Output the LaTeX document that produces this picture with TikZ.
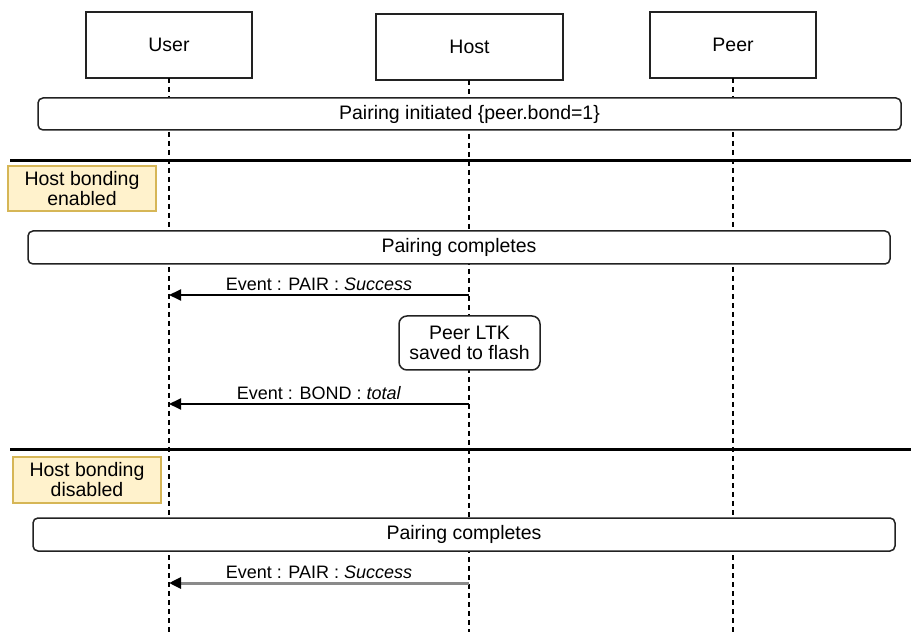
\documentclass[tikz,border=0pt]{standalone}
\usepackage{fontspec}
\setmainfont{Liberation Sans}
\usetikzlibrary{arrows.meta}
\definecolor{noteFill}{HTML}{FFF2CC}
\definecolor{noteLine}{HTML}{D6B656}
\definecolor{boxLine}{HTML}{222222}
\definecolor{greyArrow}{HTML}{8A8A8A}
\begin{document}
\begin{tikzpicture}[x=1pt,y=-1pt,
  basefont/.style={font=\fontsize{19.5}{23}\selectfont},
  actor/.style={draw=boxLine,line width=1.5pt,fill=white,basefont,inner sep=0pt},
  banner/.style={draw=boxLine,line width=1.5pt,fill=white,rounded corners=5pt,basefont,inner sep=0pt},
  note/.style={draw=noteLine,line width=1.5pt,fill=noteFill,basefont,align=center,inner sep=0pt},
  action/.style={draw=boxLine,line width=1.5pt,fill=white,rounded corners=8pt,basefont,align=center,inner sep=0pt},
  life/.style={draw=black,line width=1.4pt,dash pattern=on 5pt off 4pt},
  sep/.style={draw=black,line width=3pt},
  msg/.style={draw=black,line width=1.8pt,-{Triangle[length=12pt,width=11pt]}},
  msggrey/.style={draw=greyArrow,line width=3pt,-{Triangle[length=12pt,width=11pt,color=black]}},
  lbl/.style={font=\fontsize{18}{21}\selectfont,above,inner sep=3pt}
]
\useasboundingbox (0,0) rectangle (911,636);
% lifeline ends
\coordinate (uend) at (169,632);
\coordinate (hend) at (469,632);
\coordinate (pend) at (733,632);
% actors
\node[actor,minimum width=166pt,minimum height=66pt] (user) at (169,45) {User};
\node[actor,minimum width=187pt,minimum height=66pt] (host) at (469.5,47) {Host};
\node[actor,minimum width=166pt,minimum height=66pt] (peer) at (733,45) {Peer};
% lifelines
\draw[life] (169,78) -- (uend);
\draw[life] (469,80) -- (hend);
\draw[life] (733,78) -- (pend);
% banners
\node[banner,minimum width=863pt,minimum height=32pt] (init) at (469.5,114) {Pairing initiated \{peer.bond=1\}};
\coordinate (s1l) at (10,161);
\coordinate (s1r) at (911,161);
\draw[sep] (s1l) -- (s1r);
\node[note,minimum width=148pt,minimum height=45pt] (en) at (82,188.5) {Host bonding\\[-3pt]enabled};
\node[banner,minimum width=862pt,minimum height=33pt] (pc1) at (459,247.5) {Pairing completes};
% message 1
\coordinate (h1) at (469,295);
\coordinate (u1) at (169,295);
\draw[msg] (h1) -- node[lbl] {Event : PAIR : \textit{Success}} (u1);
\node[action,minimum width=141pt,minimum height=54pt] (ltk) at (469.5,343) {Peer LTK\\[-3pt]saved to flash};
% message 2
\coordinate (h2) at (469,404);
\coordinate (u2) at (169,404);
\draw[msg] (h2) -- node[lbl] {Event : BOND : \textit{total}} (u2);
% separator 2
\coordinate (s2l) at (10,449);
\coordinate (s2r) at (911,449);
\draw[sep] (s2l) -- (s2r);
\node[note,minimum width=148pt,minimum height=46pt] (dis) at (87,480) {Host bonding\\[-3pt]disabled};
\node[banner,minimum width=862pt,minimum height=33pt] (pc2) at (464,534.5) {Pairing completes};
% message 3
\coordinate (h3) at (469,583);
\coordinate (u3) at (169,583);
\draw[msggrey] (h3) -- node[lbl,text=black] {Event : PAIR : \textit{Success}} (u3);
\end{tikzpicture}
\end{document}
